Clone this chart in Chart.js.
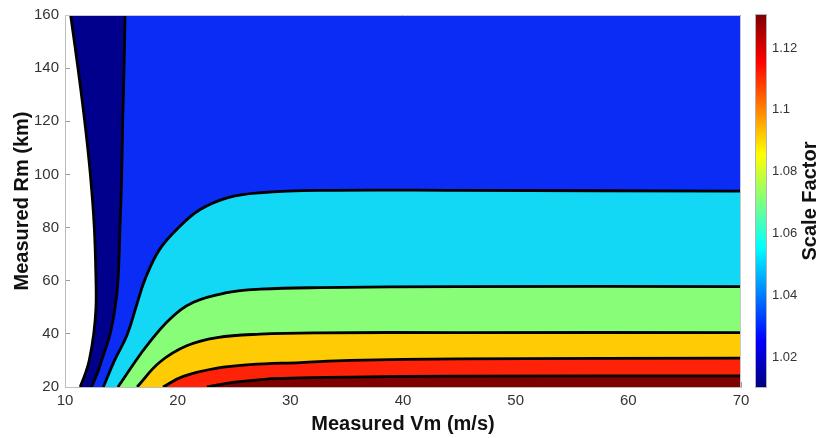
<!DOCTYPE html>
<html>
<head>
<meta charset="utf-8">
<script src="https://cdn.jsdelivr.net/npm/chart.js@4/dist/chart.umd.min.js"></script>
<style>
  html, body { margin: 0; padding: 0; background: #fff; }
  #wrap { width: 822px; height: 438px; }
</style>
</head>
<body>
<div id="wrap"><canvas id="contourChart" width="822" height="438"></canvas></div>
<script>
// axis ticks
const vmTicks = [10, 20, 30, 40, 50, 60, 70];
const rmTicks = [20, 40, 60, 80, 100, 120, 140, 160];
const scaleTicks = [1.02, 1.04, 1.06, 1.08, 1.1, 1.12];
const scaleRange = [1.0103, 1.1307];

// contour lines, [Vm, Rm] (lowest level first)
const contour1 = [[11.35, 20], [11.8, 25], [12.15, 30], [12.55, 40], [12.75, 50], [12.75, 60], [12.6, 80], [12.25, 100], [11.75, 120], [11.15, 140], [10.5, 160]];
const contour2 = [[12.35, 20], [12.85, 25], [13.25, 30], [14.0, 40], [14.45, 50], [14.7, 60], [14.88, 80], [15.03, 100], [15.12, 120], [15.24, 140], [15.33, 160]];
const contour3 = [[13.4, 20], [14.4, 30], [15.5, 39.5], [16.3, 50], [17.1, 60.5], [18.4, 71.8], [20.2, 80.5], [22.0, 86.8], [24.4, 91.2], [27.3, 93.1], [32.6, 94.0], [45, 94.0], [70, 93.7]];
const contour4 = [[14.7, 20], [16.3, 30], [17.25, 35.5], [19.3, 45.5], [21.4, 51.9], [24.35, 55.5], [27.3, 56.8], [32.6, 57.4], [45, 57.8], [70, 57.8]];
const contour5 = [[16.4, 20], [18.4, 29.3], [20.8, 35.5], [23.5, 38.6], [27.3, 39.9], [32.6, 40.4], [45, 40.5], [70, 40.5]];
const contour6 = [[18.7, 20], [20.5, 24], [23.5, 27.1], [26.4, 28.4], [30.9, 29.2], [35.3, 30], [45, 30.6], [70, 30.9]];
const contour7 = [[22.6, 20], [24.9, 21.7], [27.9, 23], [30.9, 23.4], [35.3, 23.75], [45, 24.1], [70, 24.2]];

// colour of the band above each contour
const bandColors = ['#00008c', '#0b2cf4', '#12d8f6', '#88fd78', '#fecb04', '#fe2208', '#7f0000'];
// jet colormap for the colour bar
const jetStops = [[0, '#000080'], [0.125, '#0000ff'], [0.375, '#00ffff'], [0.625, '#ffff00'], [0.875, '#ff0000'], [1, '#800000']];

const contours = [contour1, contour2, contour3, contour4, contour5, contour6, contour7];
const FONT = '"Liberation Sans", Arial, sans-serif';

const datasets = contours.map((pts, i) => {
  // first two contours run bottom to top, so index them along Rm and fill to the right edge
  const vertical = i < 2;
  return {
    data: pts.map(([x, y]) => ({ x, y })),
    xAxisID: 'x',
    yAxisID: 'y',
    indexAxis: vertical ? 'y' : 'x',
    fill: { value: vertical ? vmTicks[vmTicks.length - 1] : rmTicks[0] },
    backgroundColor: bandColors[i],
    borderColor: '#000',
    borderWidth: 2.8,
    pointRadius: 0,
    tension: 0.4,
    order: contours.length - i
  };
});

const colorbarPlugin = {
  id: 'colorbar',
  afterDatasetsDraw(chart) {
    const { ctx, chartArea: a } = chart;
    ctx.save();
    ctx.strokeStyle = '#c8c8c8';
    ctx.lineWidth = 1;
    ctx.beginPath();
    ctx.moveTo(a.left, a.top + 0.5);
    ctx.lineTo(a.right - 0.5, a.top + 0.5);
    ctx.lineTo(a.right - 0.5, a.bottom);
    ctx.stroke();
    ctx.restore();
  },
  afterDraw(chart) {
    const { ctx, chartArea: a, scales } = chart;
    const cb = scales.y2;
    const x0 = a.right + 15, w = 10;
    ctx.save();
    const g = ctx.createLinearGradient(0, cb.bottom, 0, cb.top);
    jetStops.forEach(([t, c]) => g.addColorStop(t, c));
    ctx.fillStyle = g;
    ctx.fillRect(x0, cb.top, w, cb.bottom - cb.top);
    ctx.strokeStyle = '#b4b4b4';
    ctx.lineWidth = 1;
    ctx.strokeRect(x0 - 0.5, cb.top - 0.5, w + 1, cb.bottom - cb.top + 1);

    ctx.translate(chart.width - 12, (cb.top + cb.bottom) / 2);
    ctx.rotate(-Math.PI / 2);
    ctx.font = 'bold 20px ' + FONT;
    ctx.fillStyle = '#111';
    ctx.textAlign = 'center';
    ctx.textBaseline = 'middle';
    ctx.fillText('Scale Factor', 0, 0);
    ctx.restore();
  }
};

const setTicks = vals => axis => { axis.ticks = vals.map(v => ({ value: v })); };
// fixed box size, and no extra room kept for the end labels
const fitBox = (w, h) => s => {
  if (w) s.width = w;
  if (h) s.height = h;
  s.paddingTop = 0;
  s.paddingBottom = 0;
};

new Chart(document.getElementById('contourChart'), {
  type: 'line',
  data: { datasets },
  options: {
    responsive: false,
    devicePixelRatio: 1,
    animation: false,
    layout: { padding: { top: 15, left: 0, right: 0, bottom: 0 } },
    plugins: { legend: { display: false }, tooltip: { enabled: false } },
    scales: {
      x: {
        type: 'linear',
        position: 'bottom',
        min: vmTicks[0],
        max: vmTicks[vmTicks.length - 1],
        afterBuildTicks: setTicks(vmTicks),
        afterFit: fitBox(0, 51),
        z: 1,
        grid: { display: true, drawOnChartArea: false, drawTicks: true, tickLength: -5, color: '#9a9a9a' },
        border: { display: true, color: '#bdbdbd' },
        ticks: { font: { family: FONT, size: 15 }, color: '#333', padding: 10, maxRotation: 0 },
        title: { display: true, text: 'Measured Vm (m/s)', font: { family: FONT, size: 20, weight: 'bold' }, color: '#111', padding: { top: 0, bottom: 2 } }
      },
      y: {
        type: 'linear',
        position: 'left',
        min: rmTicks[0],
        max: rmTicks[rmTicks.length - 1],
        afterBuildTicks: setTicks(rmTicks),
        afterFit: fitBox(65, 0),
        z: 1,
        grid: { display: true, drawOnChartArea: false, drawTicks: true, tickLength: -5, color: '#9a9a9a' },
        border: { display: true, color: '#bdbdbd' },
        ticks: { font: { family: FONT, size: 15 }, color: '#333', padding: 11 },
        title: { display: true, text: 'Measured Rm (km)', font: { family: FONT, size: 20, weight: 'bold' }, color: '#111', padding: { top: 10, bottom: 0 } }
      },
      y2: {
        type: 'linear',
        position: 'right',
        min: scaleRange[0],
        max: scaleRange[1],
        afterBuildTicks: setTicks(scaleTicks),
        afterFit: fitBox(81, 0),
        grid: { display: false, drawTicks: false },
        border: { display: false },
        ticks: { font: { family: FONT, size: 13 }, color: '#333', padding: 31, callback: v => String(+v.toFixed(2)) }
      }
    }
  },
  plugins: [colorbarPlugin]
});
</script>
</body>
</html>
